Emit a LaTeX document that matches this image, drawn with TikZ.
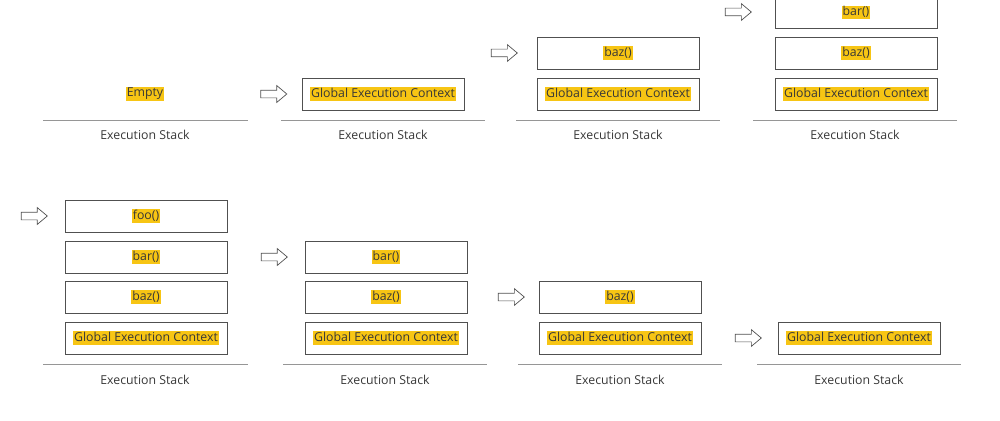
\documentclass[tikz,border=0pt]{standalone}
\usepackage{fontspec}
\setmainfont{Open Sans}
\usetikzlibrary{shapes.arrows}
\definecolor{hlyellow}{RGB}{247,197,20}
\definecolor{txtgray}{RGB}{55,55,55}
\definecolor{boxgray}{RGB}{80,80,80}
\definecolor{linegray}{RGB}{150,150,150}
\newcommand{\hl}[1]{{\setlength{\fboxsep}{1pt}\colorbox{hlyellow}{\rule[-2.5pt]{0pt}{11pt}#1}}}

\begin{document}
\begin{tikzpicture}[x=1pt,y=-1pt,
    every node/.style={font=\fontsize{12.3}{14}\selectfont,text=txtgray},
    frame/.style={draw=boxgray,line width=0.9pt,minimum width=162pt,minimum height=32pt,inner sep=0pt},
    push/.style={single arrow,draw=boxgray,line width=0.7pt,minimum height=26pt,minimum width=16pt,
      inner sep=3.5pt,single arrow head extend=4.5pt,single arrow tip angle=80},
    base/.style={draw=linegray,line width=0.8pt}]

     \useasboundingbox (0,0) rectangle (1000,420);

     % top row
     \node (e1) at (145,94) {\hl{Empty}};
     \coordinate (s1a) at (43,120);
     \coordinate (s1b) at (248,120);
     \draw[base] (s1a) -- (s1b);
     \node (t1) at (145,134.5) {Execution Stack};

     \node[push] (a2) at (271.5,94) {};
     \node[frame] (g2) at (383,94) {\hl{Global Execution Context}};
     \coordinate (s2a) at (281,120);
     \coordinate (s2b) at (485,120);
     \draw[base] (s2a) -- (s2b);
     \node (t2) at (383,134.5) {Execution Stack};

     \node[push] (a3) at (502,53) {};
     \node[frame] (z3) at (618,53) {\hl{baz()}};
     \node[frame] (g3) at (618,94) {\hl{Global Execution Context}};
     \coordinate (s3a) at (516,120);
     \coordinate (s3b) at (720,120);
     \draw[base] (s3a) -- (s3b);
     \node (t3) at (618,134.5) {Execution Stack};

     \node[push] (a4) at (736,12) {};
     \node[frame] (r4) at (856,12.5) {\hl{bar()}};
     \node[frame] (z4) at (856,53) {\hl{baz()}};
     \node[frame] (g4) at (856,94) {\hl{Global Execution Context}};
     \coordinate (s4a) at (753,120);
     \coordinate (s4b) at (957,120);
     \draw[base] (s4a) -- (s4b);
     \node (t4) at (855,134.5) {Execution Stack};

     % bottom row
     \node[push] (a5) at (32,216) {};
     \node[frame] (f5) at (146,216) {\hl{foo()}};
     \node[frame] (r5) at (146,257) {\hl{bar()}};
     \node[frame] (z5) at (146,297) {\hl{baz()}};
     \node[frame] (g5) at (146,338) {\hl{Global Execution Context}};
     \coordinate (s5a) at (43,364);
     \coordinate (s5b) at (248,364);
     \draw[base] (s5a) -- (s5b);
     \node (t5) at (145,379.5) {Execution Stack};

     \node[push] (a6) at (272,257) {};
     \node[frame] (r6) at (386,257) {\hl{bar()}};
     \node[frame] (z6) at (386,297) {\hl{baz()}};
     \node[frame] (g6) at (386,338) {\hl{Global Execution Context}};
     \coordinate (s6a) at (283,364);
     \coordinate (s6b) at (487,364);
     \draw[base] (s6a) -- (s6b);
     \node (t6) at (385,379.5) {Execution Stack};

     \node[push] (a7) at (509,297) {};
     \node[frame] (z7) at (620,297) {\hl{baz()}};
     \node[frame] (g7) at (620,338) {\hl{Global Execution Context}};
     \coordinate (s7a) at (518,364);
     \coordinate (s7b) at (722,364);
     \draw[base] (s7a) -- (s7b);
     \node (t7) at (620,379.5) {Execution Stack};

     \node[push] (a8) at (746,338) {};
     \node[frame] (g8) at (859,338) {\hl{Global Execution Context}};
     \coordinate (s8a) at (757,364);
     \coordinate (s8b) at (961,364);
     \draw[base] (s8a) -- (s8b);
     \node (t8) at (859,379.5) {Execution Stack};

\end{tikzpicture}
\end{document}
